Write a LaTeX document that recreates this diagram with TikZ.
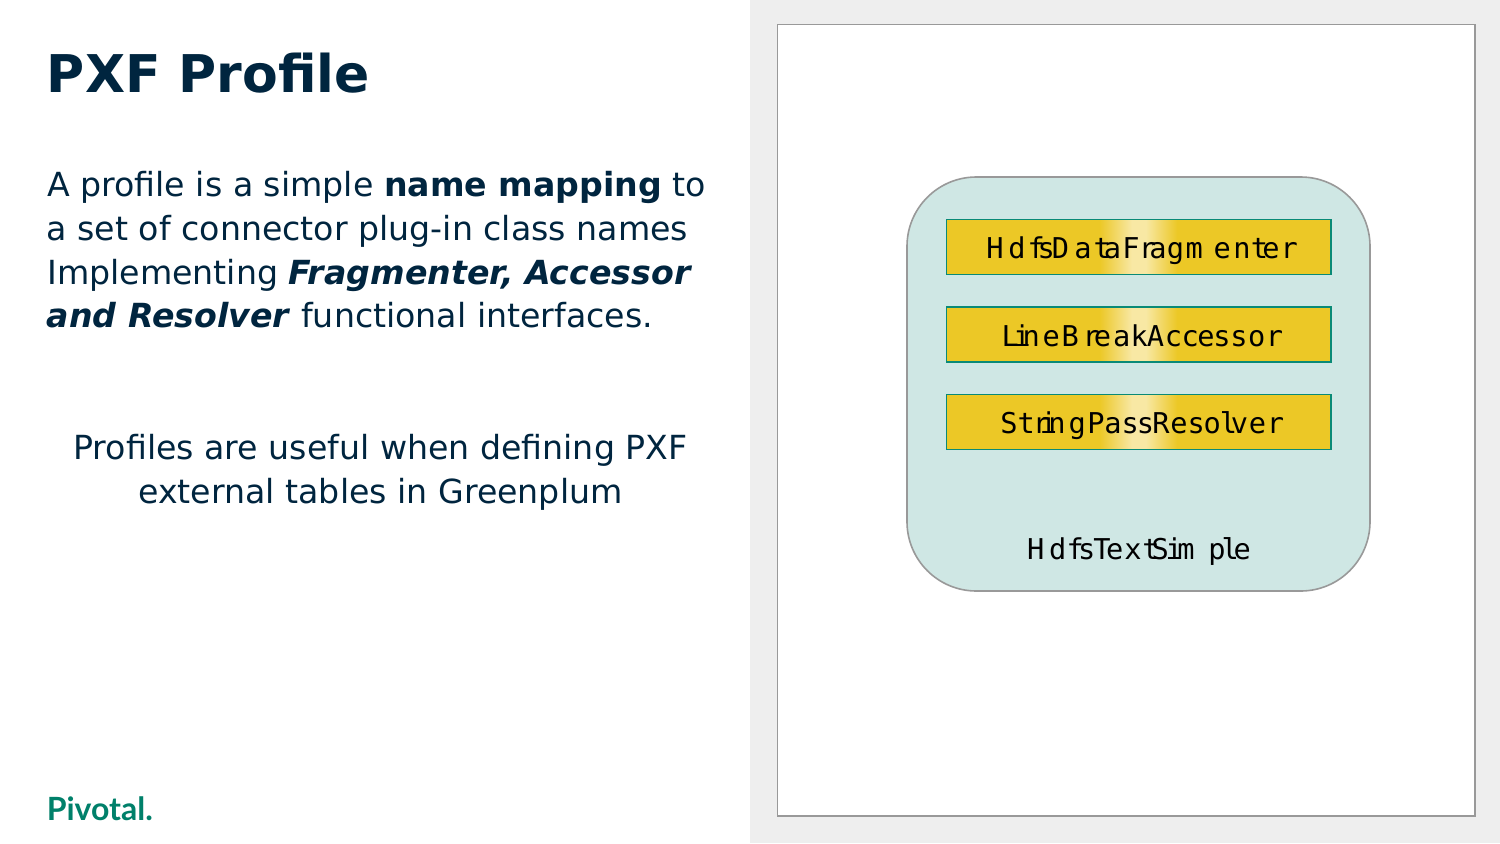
\documentclass[tikz,border=0pt]{standalone}
\usepackage{fontspec}
\setmainfont{DejaVu Sans}
\newfontfamily\monof{DejaVu Sans Mono}
\newfontfamily\logof{Lato}
\definecolor{ink}{HTML}{00253F}
\definecolor{panel}{HTML}{EEEEEE}
\definecolor{framec}{HTML}{999999}
\definecolor{paleteal}{HTML}{CFE7E4}
\definecolor{teal2}{HTML}{0A8A76}
\definecolor{logoc}{HTML}{00806A}
\definecolor{barY}{HTML}{ECC826}
\definecolor{barP}{HTML}{F8E8A4}
\pgfdeclarehorizontalshading{barshade}{100bp}{
 color(0bp)=(barY); color(44.9bp)=(barY); color(49.1bp)=(barP); color(50.9bp)=(barP); color(55bp)=(barY); color(100bp)=(barY)}
\newdimen\curx
\newcommand{\glstart}[1]{\global\curx=#1\dimexpr0.25pt\relax}
\newcommand{\gl}[2]{\setbox0=\hbox{#2}\kern\dimexpr #1\dimexpr0.25pt\relax-\curx-\wd0/2\relax\global\curx=\dimexpr #1\dimexpr0.25pt\relax+\wd0/2\relax\box0 }
\tikzset{
 x=0.75pt,y=-0.75pt,
 title/.style={anchor=base west,inner sep=0,text=ink,font=\fontsize{39}{46}\selectfont\bfseries},
 body/.style={anchor=base west,inner sep=0,text=ink,font=\fontsize{24.9}{30}\selectfont},
 bodyc/.style={anchor=base,inner sep=0,text=ink,font=\fontsize{24.9}{30}\selectfont},
 barbox/.style={draw=teal2,line width=1.3pt,shading=barshade,shading angle=0,minimum width=288.5pt,minimum height=41.2pt,inner sep=0,anchor=center,rectangle},
 cls/.style={inner sep=0,anchor=base west,text=black,font=\fontsize{21.5}{26}\selectfont\monof},
}
\begin{document}
\begin{tikzpicture}
\useasboundingbox (0,0) rectangle (1500,843);
\fill[white] (0,0) rectangle (1500,843);
\fill[panel] (750,0) rectangle (1500,843);
\draw[framec,line width=1.3pt,fill=white] (777.5,24.5) rectangle (1475,816);
\node[title] (ttl) at (46.7,92) {PXF Profile};
\node[body] (l1) at (47,196) {A profile is a simple \textbf{name mapping} to};
\node[body] (l2) at (46.5,240) {a set of connector plug-in class names};
\node[body] (l3) at (47,284) {Implementing \textbf{\itshape Fragmenter, Accessor}};
\node[body] (l4) at (46.5,327.9) {\textbf{\itshape and Resolver} functional interfaces.};
\node[bodyc] (c1) at (380.5,459) {Profiles are useful when defining PXF};
\node[bodyc] (c2) at (380.5,503) {external tables in Greenplum};
\node[anchor=base west,inner sep=0,text=logoc,font=\fontsize{24}{30}\selectfont\logof\bfseries] (logo) at (46.5,820) {Pivotal.};
\draw[framec,line width=1.2pt,fill=paleteal,rounded corners=52pt] (907,177) rectangle (1370,591);
\node[barbox] (b1) at (1138.7,247) {};
\node[barbox] (b2) at (1138.7,334.5) {};
\node[barbox] (b3) at (1138.7,422) {};
\node[cls] (t1) at (986,258.5) {\glstart{258}\gl{284}{H}\gl{350}{d}\gl{408}{f}\gl{438}{s}\gl{481}{D}\gl{548}{a}\gl{606}{t}\gl{637}{a}\gl{692}{F}\gl{742}{r}\gl{773}{a}\gl{826}{g}\gl{882}{m}\gl{966}{e}\gl{1025}{n}\gl{1078}{t}\gl{1112}{e}\gl{1167}{r}};
\node[cls] (t2) at (1001.3,346.3) {\glstart{304}\gl{330}{L}\gl{365}{i}\gl{393}{n}\gl{453}{e}\gl{510}{B}\gl{573}{r}\gl{607}{e}\gl{665}{a}\gl{717}{k}\gl{766}{A}\gl{820}{c}\gl{870}{c}\gl{917}{e}\gl{965}{s}\gl{1016}{s}\gl{1070}{o}\gl{1123}{r}};
\node[cls] (t3) at (1000,433.8) {\glstart{300}\gl{326}{S}\gl{378}{t}\gl{424}{r}\gl{445}{i}\gl{470}{n}\gl{531}{g}\gl{587}{P}\gl{638}{a}\gl{690}{s}\gl{736}{s}\gl{782}{R}\gl{836}{e}\gl{888}{s}\gl{936}{o}\gl{985}{l}\gl{1018}{v}\gl{1072}{e}\gl{1126}{r}};
\node[cls] (t4) at (1026.7,559) {\glstart{380}\gl{406}{H}\gl{472}{d}\gl{525}{f}\gl{559}{s}\gl{605}{T}\gl{643}{e}\gl{698}{x}\gl{752}{t}\gl{780}{S}\gl{822}{i}\gl{857}{m}\gl{950}{p}\gl{990}{l}\gl{1026}{e}};
\end{tikzpicture}
\end{document}
